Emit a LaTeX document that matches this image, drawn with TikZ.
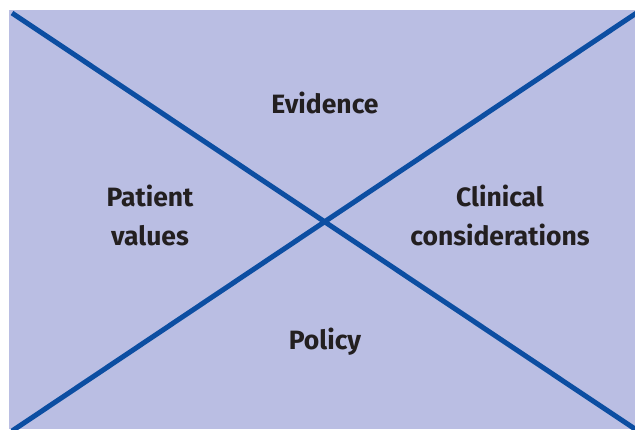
\documentclass[tikz,border=0pt]{standalone}
\usepackage{fontspec}
\setmainfont{Fira Sans}
\definecolor{panelfill}{RGB}{186,190,227}
\definecolor{crossblue}{RGB}{12,78,162}
\definecolor{labelgray}{RGB}{35,31,32}
\tikzset{
  label/.style={font=\fontsize{26.5}{39}\selectfont\bfseries, text=labelgray, align=center},
  cross/.style={draw=crossblue, line width=5pt}
}
\begin{document}
\begin{tikzpicture}[x=1pt,y=-1pt]

% white margin and the lavender panel
\useasboundingbox[fill=white] (0,0) rectangle (635,429);
\fill[panelfill] (9,10) rectangle (635,429);

% corners of the cross
\coordinate (tl) at (12,13);
\coordinate (br) at (638,431);
\coordinate (bl) at (12,431);
\coordinate (tr) at (638,12);

\begin{scope}
\clip (9,10) rectangle (635,429);
\draw[cross] (tl) -- (br);
\draw[cross] (bl) -- (tr);
\end{scope}

% the four fields
\node[label] (evidence) at (325,103) {Evidence};
\node[label] (patient)  at (150,215) {Patient\\values};
\node[label] (clinical) at (500,215) {Clinical\\considerations};
\node[label] (policy)   at (325,342) {Policy};

\end{tikzpicture}
\end{document}
